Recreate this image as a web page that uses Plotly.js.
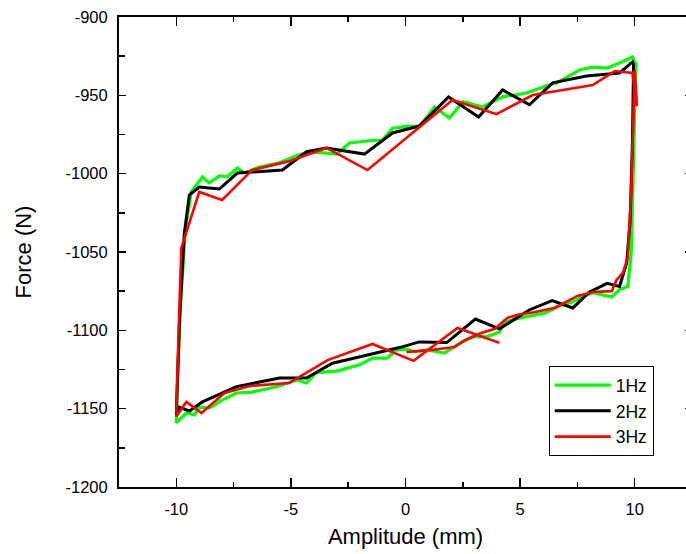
<!DOCTYPE html>
<html>
<head>
<meta charset="utf-8">
<script src="https://cdn.plot.ly/plotly-3.0.1.min.js"></script>
<style>
html,body{margin:0;padding:0;overflow:hidden;background:#fff;}
#chart{width:700px;height:554px;}
</style>
</head>
<body>
<div id="chart"></div>
<script>
// ---- data ----
const seriesNames = ["1Hz", "2Hz", "3Hz"];

const x1Hz = [0.04,0.4,0.96,1.7,2.45,3.0,3.58,4.1,4.32,5.2,6.07,6.64,7.25,7.7,8.17,8.7,9.0,9.34,9.7,
  9.85,9.95,10.0,10.05,
  9.9,9.34,8.8,8.17,7.6,6.6,6.0,5.28,4.24,3.36,2.5,1.92,1.27,0.6,0.17,-0.57,-1.0,-1.57,-2.45,-3.0,-4.2,-4.85,-5.5,-6.38,-7.03,-7.34,-7.77,-8.12,-8.56,-8.86,-9.35,
  -9.6,-9.8,-9.95,-10.0,
  -9.56,-9.21,-9.0,-8.56,-8.0,-7.38,-6.68,-5.63,-4.76,-4.32,-3.9,-3.0,-2.0,-1.44,-0.8,-0.4,0.04];
const y1Hz = [-1112,-1113.8,-1112.5,-1114.5,-1107.4,-1104,-1104,-1101,-1094.7,-1091.5,-1089,-1085,-1082,-1078.7,-1076,-1077.5,-1078.7,-1074,-1072,
  -1050,-1000,-960,-930,
  -925.5,-929.4,-932.6,-932,-933.8,-942,-944.7,-948.5,-951,-957.4,-954,-964.5,-957.4,-970,-969.6,-971,-978.5,-979,-980.4,-987.5,-986,-989,-993,-995.7,-999.6,-996.4,-1002,-1001.5,-1006,-1002,-1011.7,
  -1035,-1080,-1130,-1159,
  -1152.8,-1154,-1149,-1149.6,-1144.5,-1140,-1139.4,-1136,-1131.7,-1133.6,-1127,-1126,-1122,-1117.7,-1117.7,-1112.5,-1112];

const x2Hz = [-0.26,0.6,1.8,3.05,4.1,5.4,6.4,7.3,8.03,8.8,9.34,9.65,
  9.8,9.9,9.95,9.9,
  9.34,7.9,6.42,5.41,4.24,3.19,1.88,0.6,-0.57,-1.79,-3.45,-4.32,-5.37,-7.34,-8.12,-9.0,-9.43,
  -9.65,-9.85,-10.0,
  -9.87,-9.43,-8.86,-7.38,-5.5,-4.32,-3.19,-1.44,-0.26];
const y2Hz = [-1111,-1107.4,-1107.8,-1092.8,-1099,-1087,-1081,-1085.7,-1075.5,-1070,-1072,-1057,
  -1030,-980,-930,-928.7,
  -935.7,-937.7,-942,-956,-946.6,-963.8,-951,-969.6,-974,-987.5,-983.6,-986,-997.7,-999.6,-1009.8,-1008.5,-1013.6,
  -1038,-1090,-1154,
  -1149,-1151.5,-1145.7,-1136,-1130.4,-1130.4,-1121,-1115,-1111];

const x3Hz = [0.04,1.14,2.14,2.7,3.3,3.9,4.45,4.9,5.6,6.5,7.5,8.2,9.0,9.2,9.5,9.7,
  9.85,9.95,10.0,10.1,9.9,
  9.13,8.17,5.55,3.97,2.05,-1.66,-3.45,-5.07,-6.7,-8.0,-9.0,-9.78,
  -9.9,-10.0,
  -9.56,-8.9,-7.9,-6.8,-5.07,-3.4,-1.44,0.35,2.27,4.1];
const y3Hz = [-1113.8,-1112.5,-1110.6,-1105.5,-1101.7,-1099,-1092,-1090,-1088.5,-1085.7,-1078,-1075.5,-1075,-1068,-1063,-1053,
  -1010,-960,-934,-957,-935.7,
  -934.5,-943.4,-949.8,-962,-953,-997.7,-983.6,-992,-997.7,-1016.8,-1011.7,-1047.4,
  -1100,-1155,
  -1145.7,-1152.8,-1140,-1135.5,-1133.6,-1119,-1108.7,-1119.5,-1098.5,-1108];

const xTicks = [-10, -5, 0, 5, 10];
const xMinorTicks = [-7.5, -2.5, 2.5, 7.5];
const yTicks = [-1200, -1150, -1100, -1050, -1000, -950, -900];
const yMinorTicks = [-1175, -1125, -1075, -1025, -975, -925];

// ---- chart ----
const font = "Liberation Sans, Arial, Helvetica, sans-serif";
const colors = ["#00ff00", "#000000", "#ff0000"];
const widths = [3.2, 3, 2.6];
const xs = [x1Hz, x2Hz, x3Hz];
const ys = [y1Hz, y2Hz, y3Hz];

const traces = seriesNames.map((n, i) => ({
  type: "scatter", mode: "lines", name: n,
  x: xs[i], y: ys[i],
  line: {color: colors[i], width: widths[i]}
}));

const axisCommon = {
  showline: true, linecolor: "#000", linewidth: 2, mirror: "allticks",
  ticks: "inside", tickcolor: "#000", tickwidth: 1.5,
  showgrid: false, zeroline: false,
  tickfont: {family: font, size: 16.5, color: "#000"},
  tickmode: "array"
};

const layout = {
  width: 700, height: 554,
  margin: {l: 119, r: 8, t: 17, b: 67},
  paper_bgcolor: "#fff", plot_bgcolor: "#fff",
  font: {family: font, color: "#000"},
  showlegend: true,
  xaxis: Object.assign({}, axisCommon, {
    range: [-12.5, 12.5], tickvals: xTicks, ticktext: xTicks.map(String),
    ticklen: 9, ticklabelstandoff: 6,
    minor: {tickvals: xMinorTicks, ticks: "inside", ticklen: 5, tickwidth: 1.5, tickcolor: "#000", showgrid: false},
    title: {text: "Amplitude (mm)", font: {family: font, size: 22, color: "#000"}, standoff: 12}
  }),
  yaxis: Object.assign({}, axisCommon, {
    range: [-1200, -900], tickvals: yTicks, ticktext: yTicks.map(String),
    ticklen: 7, ticklabelstandoff: 6,
    minor: {tickvals: yMinorTicks, ticks: "inside", ticklen: 6, tickwidth: 1.5, tickcolor: "#000", showgrid: false},
    title: {text: "Force (N)", font: {family: font, size: 22, color: "#000"}, standoff: 28}
  }),
  legend: {
    x: 0.75, y: 0.257, xanchor: "left", yanchor: "top",
    bgcolor: "#fff", bordercolor: "#000", borderwidth: 1,
    font: {family: font, size: 17.5, color: "#000"},
    itemwidth: 56, tracegroupgap: 0
  }
};

Plotly.newPlot("chart", traces, layout, {displayModeBar: false, staticPlot: true});
</script>
</body>
</html>
